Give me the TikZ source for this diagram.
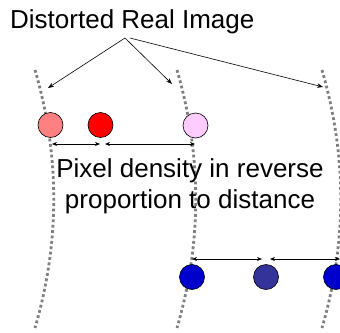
\documentclass[tikz,border=0pt]{standalone}
\usepackage{fontspec}
\setmainfont{Liberation Sans}
\usetikzlibrary{arrows.meta}

\begin{document}
\begin{tikzpicture}[
  x=1pt,
  y=-1pt,
  pix/.style={
    circle,
    draw=black,
    line width=0.6pt,
    minimum size=25pt,
    inner sep=0pt
  },
  lens/.style={gray, line width=2.8pt, dash pattern=on 2.8pt off 2.6pt},
  gap/.style={{Stealth[length=5pt,width=4pt]}-{Stealth[length=5pt,width=4pt]}, line width=0.7pt},
  callout/.style={-{Stealth[length=6pt,width=4.5pt]}, line width=0.6pt},
  big/.style={font=\fontsize{26}{31}\selectfont, inner sep=0pt}
]
\useasboundingbox[fill=white] (0,0) rectangle (340,332);
% dotted lens curves
\foreach \x in {35,177,322}
  \draw[lens] (\x,70) .. controls (\x+25,156) and (\x+25,242) .. (\x,328);
% pixels
\node[pix, fill={rgb,255:red,255;green,128;blue,128}] (r1) at (50.5,125) {};
\node[pix, fill=red] (r2) at (100.5,125) {};
\node[pix, fill={rgb,255:red,255;green,204;blue,255}] (p1) at (195.5,125.5) {};
\node[pix, fill={rgb,255:red,0;green,0;blue,204}] (b1) at (192,277) {};
\node[pix, fill={rgb,255:red,51;green,51;blue,153}] (b2) at (266,277) {};
\node[pix, fill={rgb,255:red,0;green,0;blue,204}] (b3) at (336,277) {};
% labels
\node[big, anchor=base west] (title) at (10,28) {Distorted Real Image};
\node[big, align=center, anchor=base] (note) at (190,208) {Pixel density in reverse\\proportion to distance};
% pointers from the title
\coordinate (t1) at (125,38);
\coordinate (t2) at (130,38);
\coordinate (e1) at (48,88);
\coordinate (e2) at (172,84);
\coordinate (e3) at (323,87);
\draw[callout] (t1) -- (e1);
\draw[callout] (t1) -- (e2);
\draw[callout] (t2) -- (e3);
% spacing arrows
\coordinate (ra) at (52,144);
\coordinate (rb) at (100,144);
\coordinate (rc) at (105,144);
\coordinate (rd) at (195,144);
\coordinate (ba) at (192,259);
\coordinate (bb) at (262,259);
\coordinate (bc) at (270,259);
\coordinate (bd) at (340,259);
\draw[gap] (ra) -- (rb);
\draw[gap] (rc) -- (rd);
\draw[gap] (ba) -- (bb);
\draw[gap] (bc) -- (bd);
\end{tikzpicture}
\end{document}
